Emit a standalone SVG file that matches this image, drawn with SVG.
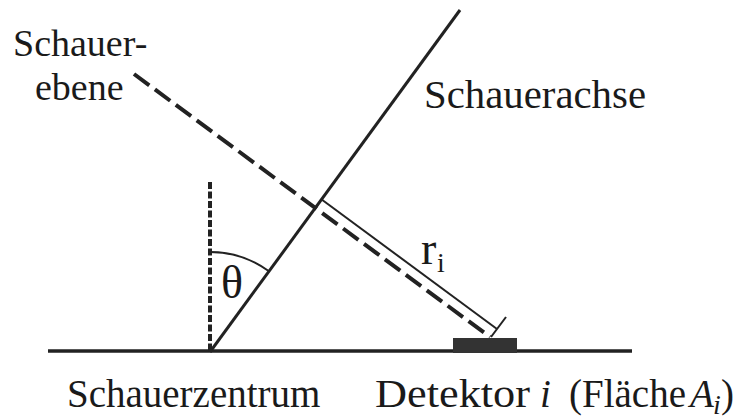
<svg xmlns="http://www.w3.org/2000/svg" width="735" height="419" viewBox="0 0 735 419">
  <style>
    text { font-family: 'Liberation Serif', 'Times New Roman', serif; fill: #1a1a1a; }
    .ln { stroke: #222; fill: none; }
  </style>
  <rect width="735" height="419" fill="#ffffff"/>
  <g id="connectors">
    <line id="ground" class="ln" x1="48" y1="351" x2="632" y2="351" stroke-width="3.5"/>
    <line id="axis" class="ln" x1="210" y1="352" x2="460" y2="10" stroke-width="3"/>
    <line id="vertical" class="ln" x1="210" y1="182" x2="210" y2="350" stroke-width="4" stroke-dasharray="7 2.5"/>
    <line id="plane" class="ln" x1="134" y1="74" x2="490" y2="337" stroke-width="4" stroke-dasharray="19 7"/>
    <line id="ri-line" class="ln" x1="321" y1="199" x2="497" y2="329" stroke-width="2"/>
    <line id="ri-tick" class="ln" x1="491" y1="337" x2="506" y2="317" stroke-width="2"/>
    <path id="theta-arc" class="ln" d="M 210 252 A 100 100 0 0 1 269 271.3" stroke-width="2"/>
  </g>
  <g id="detector">
    <rect x="453" y="338" width="64" height="15" fill="#333"/>
  </g>
  <g id="label-ebene">
    <text x="13" y="56" font-size="38">Schauer-</text>
    <text x="35" y="100" font-size="38">ebene</text>
  </g>
  <g id="label-achse">
    <text x="424" y="108" font-size="39" textLength="222" lengthAdjust="spacingAndGlyphs">Schauerachse</text>
  </g>
  <g id="label-theta">
    <text x="221" y="298" font-size="46">θ</text>
  </g>
  <g id="label-ri">
    <text x="421" y="264" font-size="46">r</text>
    <text x="437" y="272" font-size="28">i</text>
  </g>
  <g id="label-zentrum">
    <text x="67" y="407" font-size="39">Schauerzentrum</text>
  </g>
  <g id="label-detektor">
    <text x="375" y="407" font-size="39" textLength="155" lengthAdjust="spacingAndGlyphs">Detektor</text>
    <text x="540" y="407" font-size="39" font-style="italic">i</text>
    <text x="569" y="407" font-size="39">(Fläche</text>
    <text x="690" y="407" font-size="39" font-style="italic">A</text>
    <text x="713" y="414" font-size="28" font-style="italic">i</text>
    <text x="721" y="407" font-size="39">)</text>
  </g>
</svg>
